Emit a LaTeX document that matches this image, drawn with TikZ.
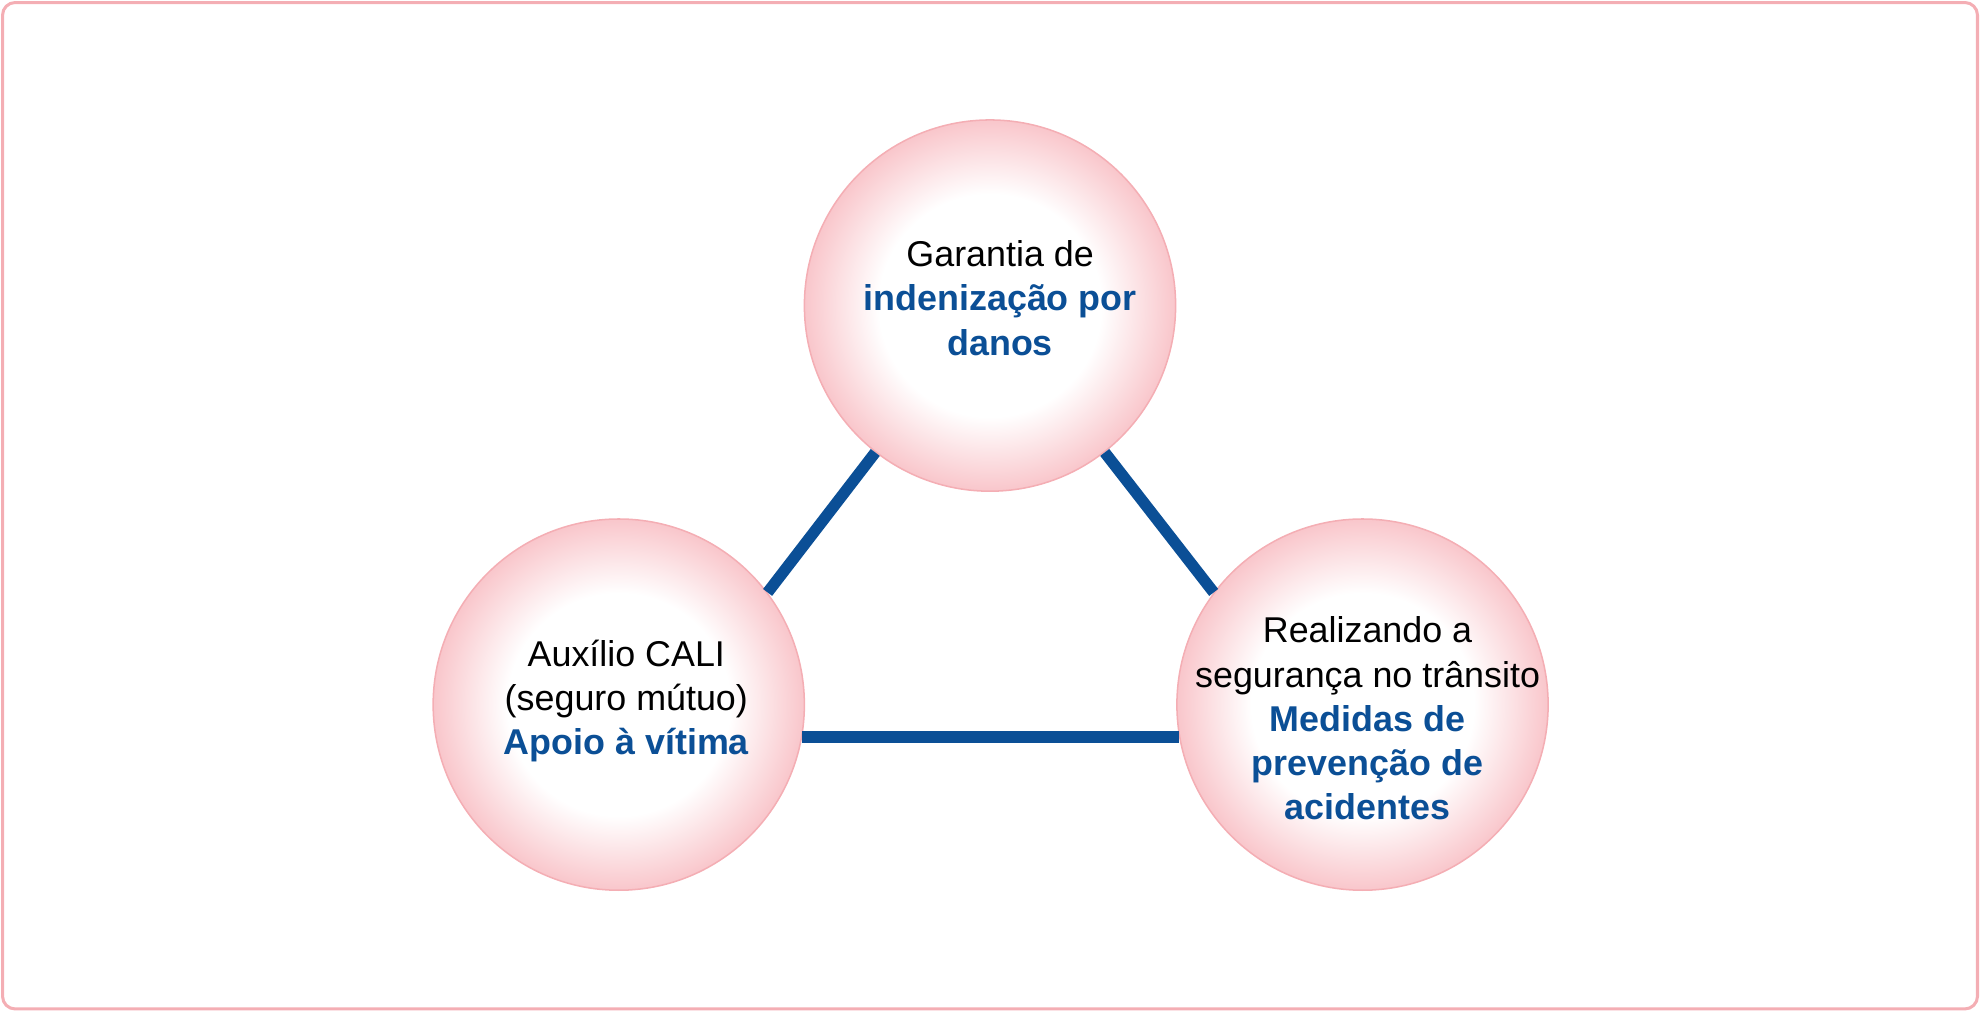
\documentclass[tikz,border=0pt]{standalone}
\usepackage{fontspec}
\setmainfont{Liberation Sans}
\definecolor{bl}{HTML}{0B4F96}
\definecolor{pk}{HTML}{F4AEB4}
\definecolor{pkf}{HTML}{F9C6CB}
\pgfdeclareradialshading{ball}{\pgfpoint{0cm}{0cm}}{color(0bp)=(white); color(15bp)=(white); color(25bp)=(pkf); color(50bp)=(pkf)}
\begin{document}
\begin{tikzpicture}[x=0.5pt,y=-0.5pt,
  ball/.style={circle,minimum size=147pt,draw=pk,line width=0.6pt,shading=ball,inner sep=0pt},
  lbl/.style={align=center,font=\fontsize{14.2}{17.5}\selectfont},
  link/.style={draw=bl,line width=4.5pt}]
\useasboundingbox (0,0) rectangle (1568,801);
\draw[pk,line width=1.2pt,rounded corners=5] (2,2) rectangle (1566,799);
\node[ball] (t) at (784,242) {};
\node[ball] (l) at (490,558) {};
\node[ball] (r) at (1079,558) {};
\path[link] (t.-128) -- (l.37);
\path[link] (t.-52) -- (r.143);
\path[link] (l.-10) -- (r.190);
\node[lbl] (tt) at (792,236) {Garantia de\\\textbf{\color{bl}indenização por}\\\textbf{\color{bl}danos}};
\node[lbl] (lt) at (496,555) {Auxílio CALI\\(seguro mútuo)\\\textbf{\color{bl}Apoio à vítima}};
\node[lbl] (rt) at (1083,569) {Realizando a\\segurança no trânsito\\\textbf{\color{bl}Medidas de}\\\textbf{\color{bl}prevenção de}\\\textbf{\color{bl}acidentes}};
\end{tikzpicture}
\end{document}
